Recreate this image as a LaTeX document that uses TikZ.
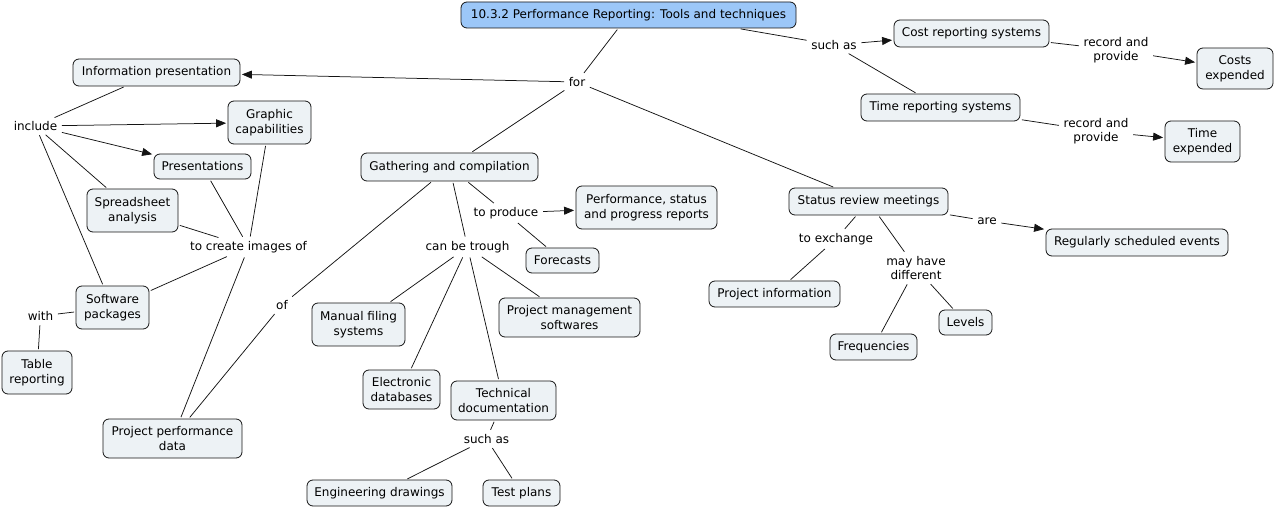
\documentclass[tikz,border=0pt]{standalone}
\usepackage{fontspec}
\setmainfont{DejaVu Sans}
\usetikzlibrary{arrows.meta}
\definecolor{cfill}{RGB}{237,242,245}
\definecolor{mfill}{RGB}{156,199,248}
\definecolor{cline}{RGB}{20,20,20}
\begin{document}
\begin{tikzpicture}[x=1pt,y=-1pt,
  concept/.style={draw=cline, line width=0.8pt, fill=cfill, rounded corners=6pt,
    inner sep=0pt, align=center, font=\fontsize{12}{15}\selectfont},
  mainc/.style={concept, fill=mfill},
  phrase/.style={inner sep=3pt, align=center, font=\fontsize{12}{14.5}\selectfont},
  conn/.style={draw=cline, line width=0.75pt, shorten <=1.5pt, shorten >=1.5pt},
  arr/.style={conn, -{Triangle[length=10pt,width=8pt]}}]
\useasboundingbox (0,0) rectangle (1274,510);
% concepts
\node[mainc, minimum width=335, minimum height=26] (main) at (628.5,15) {10.3.2 Performance Reporting: Tools and techniques};
\node[concept, minimum width=167, minimum height=27] (info) at (156.5,72.5) {Information presentation};
\node[concept, minimum width=83, minimum height=43] (graph) at (269.5,122.5) {Graphic\\capabilities};
\node[concept, minimum width=97, minimum height=25] (pres) at (202.5,166.5) {Presentations};
\node[concept, minimum width=91, minimum height=43] (spread) at (132.5,210.5) {Spreadsheet\\analysis};
\node[concept, minimum width=73, minimum height=43] (soft) at (112.5,307.5) {Software\\packages};
\node[concept, minimum width=70, minimum height=43] (table) at (37,372.5) {Table\\reporting};
\node[concept, minimum width=139, minimum height=39] (ppd) at (172.5,438.5) {Project performance\\data};
\node[concept, minimum width=177, minimum height=28] (gath) at (449.5,167) {Gathering and compilation};
\node[concept, minimum width=141, minimum height=43] (perf) at (646.5,207.5) {Performance, status\\and progress reports};
\node[concept, minimum width=73, minimum height=25] (fore) at (562.5,260.5) {Forecasts};
\node[concept, minimum width=93, minimum height=43] (manual) at (358.5,324.5) {Manual filing\\systems};
\node[concept, minimum width=141, minimum height=39] (pms) at (569.5,317.5) {Project management\\softwares};
\node[concept, minimum width=77, minimum height=39] (edb) at (401.5,389.5) {Electronic\\databases};
\node[concept, minimum width=105, minimum height=39] (tech) at (503.5,400.5) {Technical\\documentation};
\node[concept, minimum width=145, minimum height=26] (eng) at (379.5,493) {Engineering drawings};
\node[concept, minimum width=77, minimum height=26] (test) at (521.5,493) {Test plans};
\node[concept, minimum width=155, minimum height=27] (cost) at (971.5,33.5) {Cost reporting systems};
\node[concept, minimum width=76, minimum height=41] (costexp) at (1235,68.5) {Costs\\expended};
\node[concept, minimum width=159, minimum height=27] (time) at (940.5,107.5) {Time reporting systems};
\node[concept, minimum width=75, minimum height=41] (timeexp) at (1202.5,141.5) {Time\\expended};
\node[concept, minimum width=159, minimum height=27] (status) at (868.5,201.5) {Status review meetings};
\node[concept, minimum width=182, minimum height=27] (reg) at (1137,242.5) {Regularly scheduled events};
\node[concept, minimum width=131, minimum height=26] (pinfo) at (774.5,294) {Project information};
\node[concept, minimum width=87, minimum height=26] (freq) at (873.5,347) {Frequencies};
\node[concept, minimum width=53, minimum height=25] (levels) at (965.5,322.5) {Levels};
% linking phrases
\node[phrase] (for) at (577,82) {for};
\node[phrase] (suchA) at (834,45) {such as};
\node[phrase] (rap1) at (1116,50) {record and\\provide};
\node[phrase] (rap2) at (1096,131) {record and\\provide};
\node[phrase] (include) at (35.5,126) {include};
\node[phrase] (tcio) at (248.5,247) {to create images of};
\node[phrase] (with) at (40.5,316) {with};
\node[phrase] (of) at (282,305) {of};
\node[phrase] (tprod) at (506,213) {to produce};
\node[phrase] (cbt) at (467.5,247) {can be trough};
\node[phrase] (suchB) at (486.5,439) {such as};
\node[phrase] (texch) at (836,239) {to exchange};
\node[phrase] (mhd) at (916,268) {may have\\different};
\node[phrase] (are) at (987,221) {are};
% connectors
\draw[conn] (main) -- (for);
\draw[arr] (for) -- (info);
\draw[conn] (for) -- (gath);
\draw[conn] (for) -- (status);
\draw[conn, shorten <=3pt] (main.-7) -- (suchA);
\draw[arr] (suchA) -- (cost);
\draw[conn] (suchA) -- (time);
\draw[conn] (cost) -- (rap1);
\draw[arr] (rap1) -- (costexp);
\draw[conn] (time) -- (rap2);
\draw[arr] (rap2) -- (timeexp);
\draw[conn] (info) -- (include);
\draw[arr] (include) -- (graph);
\draw[arr] (include) -- (pres);
\draw[conn] (include) -- (spread);
\draw[conn] (include) -- (soft);
\draw[conn] (pres) -- (tcio);
\draw[conn] (graph) -- (tcio);
\draw[conn] (spread) -- (tcio);
\draw[conn] (tcio) -- (soft);
\draw[conn] (tcio) -- (ppd);
\draw[conn] (soft) -- (with);
\draw[conn] (with) -- (table);
\draw[conn] (gath) -- (of);
\draw[conn] (of) -- (ppd);
\draw[conn] (gath) -- (tprod);
\draw[arr] (tprod) -- (perf);
\draw[conn] (tprod) -- (fore);
\draw[conn] (gath) -- (cbt);
\draw[conn] (cbt) -- (manual);
\draw[conn] (cbt) -- (edb);
\draw[conn] (cbt) -- (tech);
\draw[conn] (cbt) -- (pms);
\draw[conn] (tech) -- (suchB);
\draw[conn] (suchB) -- (eng);
\draw[conn] (suchB) -- (test);
\draw[conn] (status) -- (texch);
\draw[conn] (texch) -- (pinfo);
\draw[conn] (status) -- (mhd);
\draw[conn] (mhd) -- (freq);
\draw[conn] (mhd) -- (levels);
\draw[conn] (status) -- (are);
\draw[arr] (are) -- (reg);
\end{tikzpicture}
\end{document}
